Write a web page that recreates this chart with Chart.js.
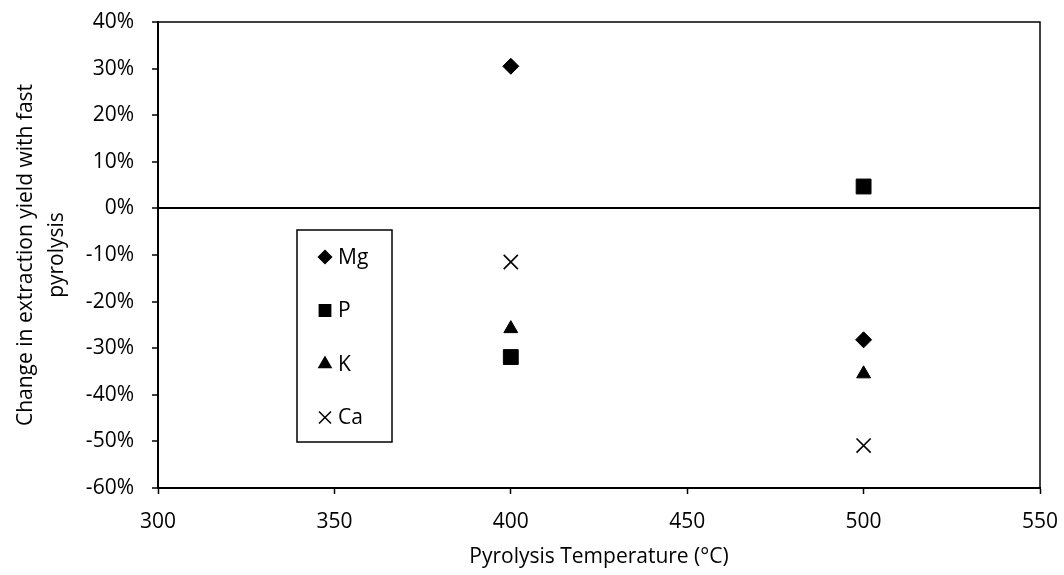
<!DOCTYPE html>
<html>
<head>
<meta charset="utf-8">
<title>Change in extraction yield with fast pyrolysis</title>
<script src="https://cdn.jsdelivr.net/npm/chart.js@4.4.0/dist/chart.umd.min.js"></script>
<style>
  html, body { margin: 0; padding: 0; background: #fff; }
  #wrap { width: 1064px; height: 575px; position: relative; }
</style>
</head>
<body>
<div id="wrap"><canvas id="chart"></canvas></div>
<script>
// data (yield change in %)
var temps = [400, 500];
var mg = [30.5, -28.2];
var p = [-31.9, 4.7];
var k = [-25.8, -35.5];
var ca = [-11.5, -50.9];
var seriesNames = ["Mg", "P", "K", "Ca"];
var yTitle = ["Change in extraction yield with fast", "pyrolysis"];
var xTitle = "Pyrolysis Temperature (\u00B0C)";

function pts(vals) {
    return temps.map(function (t, i) { return { x: t, y: vals[i] }; });
}

var FONT = "'Open Sans', 'Liberation Sans', sans-serif";
var FS = 21;
Chart.defaults.font.family = FONT;
Chart.defaults.font.size = FS;
Chart.defaults.color = "#000";

var markers = [
    { style: "rectRot", r: 8, lr: 6.5 },
    { style: "rect", r: 10.5, lr: 8 },
    { style: "triangle", r: 8, lr: 7 },
    { style: "crossRot", r: 10, lr: 8.5 }
];

// box around the plot (top + right sides)
var frame = {
    id: "frame",
    afterDraw: function (chart) {
        var a = chart.chartArea, ctx = chart.ctx;
        ctx.save();
        ctx.strokeStyle = "#000";
        ctx.lineWidth = 1.5;
        ctx.strokeRect(a.left, a.top, a.right - a.left, a.bottom - a.top);
        ctx.restore();
    }
};

// legend sits inside the plot in a box
var boxLegend = {
    id: "boxLegend",
    afterDraw: function (chart) {
        var a = chart.chartArea, ctx = chart.ctx;
        var bx = a.left + 139, by = a.top + 208, bw = 95, bh = 212;
        ctx.save();
        ctx.fillStyle = "#fff";
        ctx.fillRect(bx, by, bw, bh);
        ctx.strokeStyle = "#000";
        ctx.lineWidth = 1.5;
        ctx.strokeRect(bx, by, bw, bh);
        ctx.font = FS + "px " + FONT;
        ctx.textBaseline = "middle";
        seriesNames.forEach(function (name, i) {
            var cy = by + 27 + i * 53.5;
            var m = markers[i];
            ctx.fillStyle = "#000";
            ctx.strokeStyle = "#000";
            ctx.lineWidth = 1.5;
            Chart.helpers.drawPoint(ctx, { pointStyle: m.style, radius: m.lr, rotation: 0, borderWidth: 1.5 }, bx + 28, cy);
            ctx.fillStyle = "#000";
            ctx.fillText(name, bx + 41, cy + 1);
        });
        ctx.restore();
    }
};

function ds(label, vals, m) {
    return {
        label: label,
        data: pts(vals),
        pointStyle: m.style,
        pointRadius: m.r,
        pointHoverRadius: m.r,
        pointBackgroundColor: "#000",
        pointBorderColor: "#000",
        pointBorderWidth: m.style === "crossRot" ? 1.6 : 1,
        showLine: false
    };
}

new Chart(document.getElementById("chart"), {
    type: "scatter",
    data: {
        datasets: [
            ds(seriesNames[0], mg, markers[0]),
            ds(seriesNames[1], p, markers[1]),
            ds(seriesNames[2], k, markers[2]),
            ds(seriesNames[3], ca, markers[3])
        ]
    },
    options: {
        responsive: true,
        maintainAspectRatio: false,
        animation: false,
        layout: { padding: { left: 0, top: 22, right: 24, bottom: 0 } },
        plugins: { legend: { display: false }, tooltip: { enabled: false } },
        scales: {
            x: {
                type: "linear",
                min: 300, max: 550,
                afterFit: function (s) { s.height = 87; s.paddingLeft = 0; s.paddingRight = 0; },
                ticks: { stepSize: 50, padding: 15 },
                grid: { drawOnChartArea: false, color: "#000", tickLength: 6, tickWidth: 1.5 },
                border: { color: "#000", width: 2 },
                title: { display: true, text: xTitle, font: { size: FS, lineHeight: 1.2 }, padding: { top: 0, bottom: 5 } }
            },
            y: {
                min: -60, max: 40,
                afterFit: function (s) { s.width = 158; s.paddingTop = 0; s.paddingBottom = 0; },
                ticks: { stepSize: 10, padding: 18, callback: function (v) { return v + "%"; } },
                grid: {
                    color: function (c) { return c.tick && c.tick.value === 0 ? "#000" : "transparent"; },
                    tickColor: "#000",
                    lineWidth: 2,
                    tickWidth: 1.5,
                    tickLength: 6
                },
                border: { color: "#000", width: 2 },
                title: { display: true, text: yTitle, font: { size: FS, lineHeight: 1.45 }, padding: { top: 11, bottom: 0 } }
            }
        }
    },
    plugins: [frame, boxLegend]
});
</script>
</body>
</html>
